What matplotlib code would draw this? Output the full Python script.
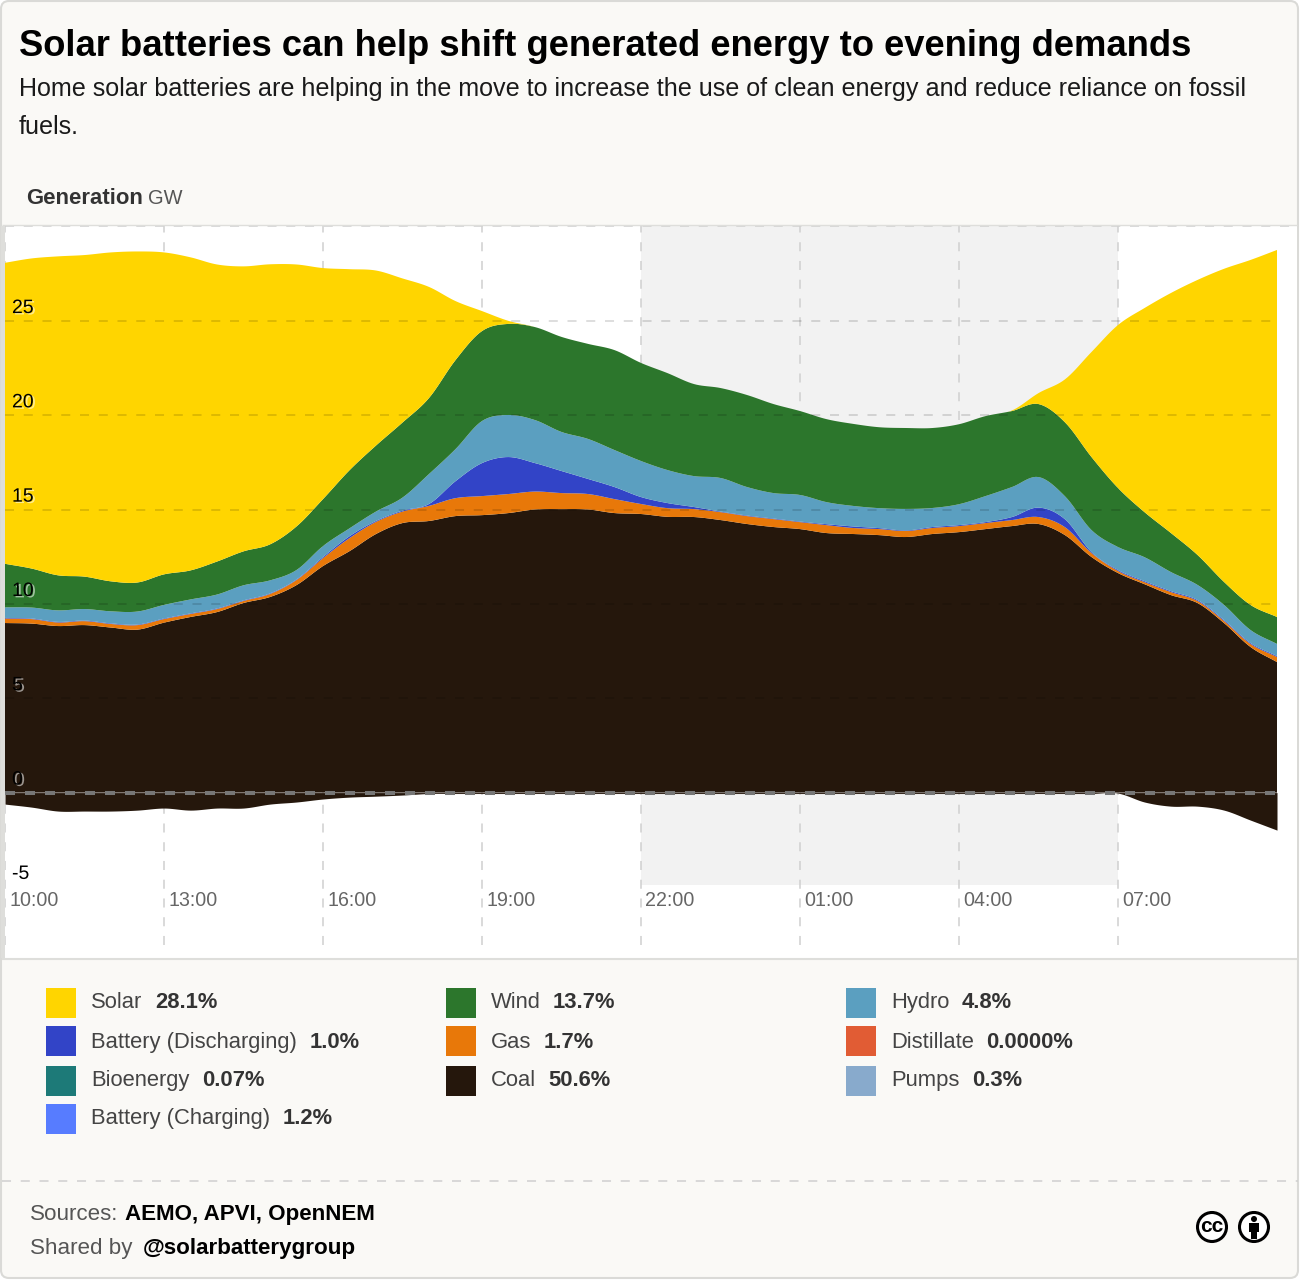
import matplotlib
matplotlib.use("Agg")
import matplotlib.pyplot as plt
import matplotlib.patheffects as pe
from matplotlib.patches import Rectangle, Circle, FancyBboxPatch
import numpy as np

W, H = 1314, 1280
plt.rcParams['font.family'] = ['Liberation Sans', 'DejaVu Sans']
plt.rcParams['lines.scale_dashes'] = False

# Half-hourly generation in GW, starting at 10:00
coal = [8.99, 8.96, 8.83, 8.88, 8.75, 8.64, 9.01, 9.31, 9.57, 10.05, 10.37, 11.0, 12.01,
        12.80, 13.71, 14.29, 14.40, 14.66, 14.71, 14.82, 15.01, 15.03, 15.01, 14.82, 14.77,
        14.62, 14.61, 14.45, 14.24, 14.08, 13.97, 13.76, 13.71, 13.65, 13.55, 13.71, 13.81,
        13.97, 14.13, 14.24, 13.65, 12.49, 11.64, 11.05, 10.47, 10.05, 8.99, 7.72, 6.92]
gas = [.24, .24, .19, .21, .19, .24, .19, .16, .16, .11, .16, .27, .42,
       .69, .64, .61, .80, .95, 1.01, 1.01, .95, .85, .82, .74, .53,
       .46, .42, .42, .42, .42, .37, .42, .32, .32, .32, .32, .32,
       .32, .32, .37, .42, .21, .11, .11, .16, .11, .11, .16, .27]
battery_discharging = [.03, .03, .03, .03, .03, .03, .03, .03, .03, .03, .03, .03, .06,
                       .10, .05, .05, .10, .90, 1.75, 1.96, 1.51, 1.17, .80, .64, .37,
                       .27, .11, .03, .03, .03, .03, .05, .08, .05, .03, .05, .05,
                       .05, .16, .50, .42, .05, .05, .05, .05, .05, .05, .05, .05]
hydro = [.56, .58, .61, .61, .64, .69, .72, .74, .74, .80, .69, .50, .58,
         .42, .50, .69, 1.59, 1.70, 2.23, 2.23, 2.28, 2.07, 2.12, 1.96, 1.91,
         1.75, 1.64, 1.78, 1.51, 1.35, 1.41, 1.17, 1.09, 1.06, 1.14, 1.01, 1.11,
         1.38, 1.59, 1.62, 1.22, 1.17, 1.22, 1.27, 1.01, .80, .80, .69, .64]
wind = [2.31, 2.07, 1.86, 1.72, 1.59, 1.54, 1.62, 1.54, 1.75, 1.80, 1.91, 2.31, 2.49,
        3.08, 3.50, 3.98, 4.03, 4.72, 4.77, 4.83, 4.93, 5.04, 5.04, 5.30, 5.20,
        5.14, 4.88, 4.77, 4.88, 4.72, 4.45, 4.40, 4.35, 4.29, 4.29, 4.24, 4.24,
        4.24, 4.03, 3.87, 3.92, 3.87, 3.13, 2.39, 2.07, 1.59, 1.22, 1.33, 1.43]
solar = [15.96, 16.44, 16.91, 17.05, 17.44, 17.55, 17.07, 16.60, 15.75, 15.11, 14.85, 13.89, 12.25,
         10.66, 9.28, 7.64, 5.89, 3.13, 1.06, .16, 0, 0, 0, 0, 0,
         0, 0, 0, 0, 0, 0, 0, 0, 0, 0, 0, 0,
         0, .03, .58, 2.28, 5.57, 8.64, 10.82, 12.73, 14.58, 16.60, 18.29, 19.46]
below_zero = [-.61, -.77, -.98, -.98, -.98, -.93, -.82, -.93, -.82, -.82, -.61, -.50, -.34,
              -.24, -.19, -.13, -.05, -.05, -.05, -.05, -.05, -.05, -.05, -.05, -.05,
              -.05, -.05, -.05, -.05, -.05, -.05, -.05, -.05, -.05, -.05, -.05, -.05,
              -.05, -.05, -.05, -.05, -.05, -.03, -.50, -.72, -.72, -.93, -1.46, -1.99]

hours_elapsed = np.arange(len(coal)) * 0.5
time_labels = ["10:00", "13:00", "16:00", "19:00", "22:00", "01:00", "04:00", "07:00"]
time_ticks = [0, 3, 6, 9, 12, 15, 18, 21]
gw_ticks = [-5, 0, 5, 10, 15, 20, 25]

legend_rows = [
    # name, share, swatch x, row y, name x, share x, text baseline, colour
    ("Solar", "28.1%", 46, 988, 91, 155, 1008, "#FFD500"),
    ("Battery (Discharging)", "1.0%", 46, 1026, 91, 310, 1048, "#3244C7"),
    ("Bioenergy", "0.07%", 46, 1066, 91, 202, 1086, "#1D7A78"),
    ("Battery (Charging)", "1.2%", 46, 1104, 91, 283, 1124, "#577CFF"),
    ("Wind", "13.7%", 446, 988, 491, 553, 1008, "#2C762C"),
    ("Gas", "1.7%", 446, 1026, 491, 544, 1048, "#E87809"),
    ("Coal", "50.6%", 446, 1066, 491, 548, 1086, "#25170C"),
    ("Hydro", "4.8%", 846, 988, 891, 962, 1008, "#5B9FC0"),
    ("Distillate", "0.0000%", 846, 1026, 891, 986, 1048, "#E15C34"),
    ("Pumps", "0.3%", 846, 1066, 891, 972, 1086, "#88AACC"),
]


def smooth(t, y, steps=10):
    """Cubic Hermite curve through half-hourly readings, for drawing the area edges."""
    y = np.asarray(y, dtype=float)
    m = np.gradient(y, t)
    tt, yy = [], []
    for i in range(len(t) - 1):
        h = t[i + 1] - t[i]
        s = np.linspace(0, 1, steps, endpoint=False)
        h00 = 2 * s**3 - 3 * s**2 + 1
        h10 = s**3 - 2 * s**2 + s
        h01 = -2 * s**3 + 3 * s**2
        h11 = s**3 - s**2
        tt.append(t[i] + s * h)
        yy.append(h00 * y[i] + h10 * h * m[i] + h01 * y[i + 1] + h11 * h * m[i + 1])
    return np.append(np.concatenate(tt), t[-1]), np.append(np.concatenate(yy), y[-1])


fig = plt.figure(figsize=(W / 100, H / 100), dpi=100, facecolor="white")

# Card background, drawn in pixel coordinates
bg = fig.add_axes([0, 0, 1, 1], zorder=0)
bg.set_xlim(0, W)
bg.set_ylim(H, 0)
bg.axis("off")
bg.add_patch(FancyBboxPatch((1, 1), 1297, 1277, boxstyle="round,pad=0,rounding_size=8",
                            fc="#FAF9F6", ec="#DADAD7", lw=1.5))
bg.add_patch(Rectangle((0.5, 226), 4.5, 732, fc="#DEDEDB", ec="none"))

# Chart panel
L, R, T, B = 5, 1297, 226, 958
ax = fig.add_axes([L / W, 1 - B / H, (R - L) / W, (B - T) / H], zorder=1)
ax.set_xlim(0, (R - L) / 53.0)
ax.set_ylim(-8.77, 30.04)
ax.axis("off")
ax.add_patch(Rectangle((0, 0), 1, 1, transform=ax.transAxes, fc="white", ec="none", zorder=0))

ax.axvspan(12, 21, ymin=(-4.9 + 8.77) / 38.81, ymax=1, fc="#F2F2F2", ec="none", zorder=1)
grid_dash = (0, (6.5, 7.0))
ax.vlines(time_ticks, -8.1, 30.04, color="#CFCFCF", lw=1.1, linestyle=grid_dash, zorder=2)

series = [coal, gas, battery_discharging, hydro, wind, solar]
curves = [np.clip(smooth(hours_elapsed, s)[1], 0, None) for s in series]
fine_hours = smooth(hours_elapsed, coal)[0]
ax.stackplot(fine_hours, *curves,
             colors=["#25170C", "#E87809", "#3244C7", "#5B9FC0", "#2C762C", "#FFD500"],
             lw=0, zorder=3)
ax.fill_between(fine_hours, np.clip(smooth(hours_elapsed, below_zero)[1], None, 0), 0,
                color="#25170C", lw=0, zorder=3)

# Horizontal guides sit above the areas
ax.hlines([5, 10, 15, 20, 25], 0, hours_elapsed[-1], color=(0, 0, 0, 0.17), lw=1.1,
          linestyle=grid_dash, zorder=4)
ax.plot([0, hours_elapsed[-1]], [0, 0], color="#777777", lw=2.9, dashes=(7.2, 7.2),
        dash_capstyle="butt", solid_capstyle="butt", zorder=5)
ax.hlines(30.04, 0, ax.get_xlim()[1], color="#CFCFCF", lw=1.1, linestyle=grid_dash, zorder=5)

glow = [pe.SimplePatchShadow(offset=(1.5, -1), shadow_rgbFace="white", alpha=0.55), pe.Normal()]
for v in gw_ticks:
    ax.annotate(str(v), (0, v), xytext=(7, 8), textcoords="offset pixels", fontsize=14.0,
                color="black", va="baseline", ha="left", zorder=6, path_effects=glow)
for t, lab in zip(time_ticks, time_labels):
    ax.annotate(lab, (t, -5.6), xytext=(4.5, -8), textcoords="offset pixels", fontsize=14.1,
                color="#666666", va="baseline", ha="left", zorder=6)

# Overlay for headings, legend and footer
ov = fig.add_axes([0, 0, 1, 1], zorder=2)
ov.set_xlim(0, W)
ov.set_ylim(H, 0)
ov.axis("off")
ov.patch.set_alpha(0)


def label(x, y, s, size, color="#333333", weight="normal"):
    ov.text(x, y, s, fontsize=size, color=color, fontweight=weight, va="baseline", ha="left")


label(19, 56, "Solar batteries can help shift generated energy to evening demands", 26.2, "black", "bold")
label(19, 96, "Home solar batteries are helping in the move to increase the use of clean energy and reduce reliance on fossil", 18.14, "#1A1A1A")
label(19, 134, "fuels.", 18.14, "#1A1A1A")
label(26, 204, "Generation", 15.9, "#333333", "bold")
label(148, 204, "GW", 14.4, "#555555")

ov.hlines(958.5, 2, 1297, color="#DEDEDB", lw=1.5)
ov.hlines(225, 2, 1297, color="#DEDEDB", lw=1.0)

for name, share, sx, sy, nx, vx, base, col in legend_rows:
    ov.add_patch(Rectangle((sx, sy), 30, 30, fc=col, ec="none"))
    label(nx, base, name, 15.85, "#444444")
    label(vx, base, share, 15.85, "#333333", "bold")

ov.hlines(1181, 2, 1298, color="#CFCFCF", lw=1.1, linestyle=grid_dash)
label(30, 1220, "Sources:", 16.1, "#555555")
label(125, 1220, "AEMO, APVI, OpenNEM", 16.1, "black", "bold")
label(30, 1254, "Shared by", 16.1, "#555555")
label(143, 1254, "@solarbatterygroup", 16.1, "black", "bold")

# Creative Commons badges
ov.add_patch(Circle((1212, 1227), 14.5, fc="white", ec="black", lw=2.2))
ov.text(1212, 1232, "cc", fontsize=15, fontweight="bold", color="black", ha="center", va="baseline")
ov.add_patch(Circle((1254, 1227), 14.5, fc="white", ec="black", lw=2.2))
ov.add_patch(Circle((1254, 1219), 3, fc="black", ec="none"))
ov.add_patch(Rectangle((1249, 1223), 10, 9, fc="black", ec="none"))
ov.add_patch(Rectangle((1251, 1232), 6, 7, fc="black", ec="none"))

fig.savefig("out.png", dpi=100, facecolor="white")
